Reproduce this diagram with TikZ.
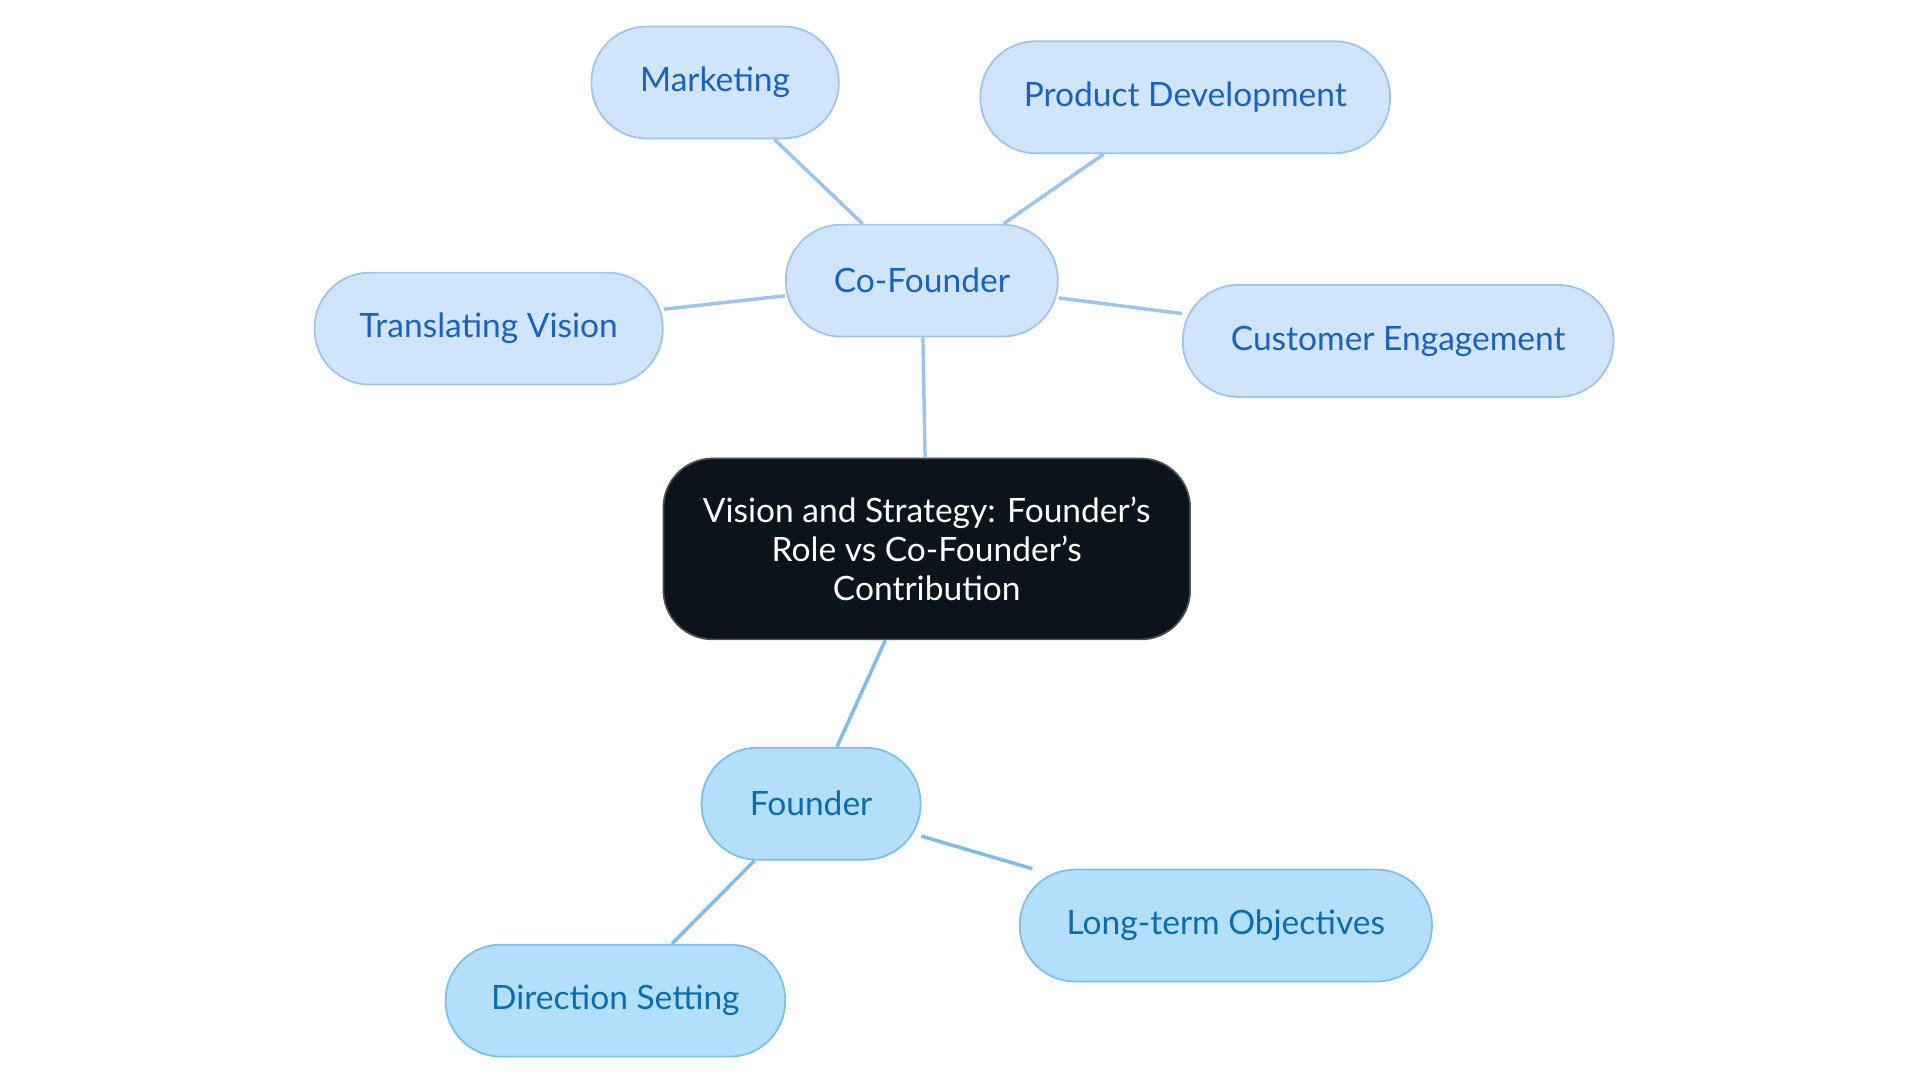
\documentclass[tikz,border=0pt]{standalone}
\usepackage{fontspec}
\setmainfont{Lato}
\definecolor{coFill}{HTML}{D0E4FB}
\definecolor{coLine}{HTML}{9DC3EE}
\definecolor{coText}{HTML}{1A62C0}
\definecolor{fFill}{HTML}{B3DEFC}
\definecolor{fLine}{HTML}{7DBDE8}
\definecolor{fText}{HTML}{0A6CB2}
\definecolor{rootFill}{HTML}{0B141C}
\begin{document}
\begin{tikzpicture}[x=0.02cm,y=-0.02cm]
    \tikzstyle{topic}=[rounded corners=0.9cm,minimum height=1.82cm,line width=0.8pt,
        font=\fontsize{15.5}{18}\selectfont,inner sep=0pt]
    \tikzstyle{co topic}=[topic,fill=coFill,draw=coLine,text=coText]
    \tikzstyle{f topic}=[topic,fill=fFill,draw=fLine,text=fText]
    \tikzstyle{co link}=[draw=coLine,line width=1.6pt]
    \tikzstyle{f link}=[draw=fLine,line width=1.6pt]

    \useasboundingbox (0,0) rectangle (1560,880);

    % Central topic
    \node[topic,fill=rootFill,draw=black!70,text=white,minimum width=8.56cm,
        minimum height=2.94cm,rounded corners=0.8cm,align=center] (root) at (753,446)
        {Vision and Strategy: Founder's\\Role vs Co-Founder's\\Contribution};

    % Co-Founder branch
    \node[co topic,minimum width=4.42cm] (co) at (749,228) {Co-Founder};
    \node[co topic,minimum width=4.02cm] (mkt) at (581,67) {Marketing};
    \node[co topic,minimum width=6.66cm] (prod) at (963,79) {Product Development};
    \node[co topic,minimum width=5.66cm] (trans) at (397,267) {Translating Vision};
    \node[co topic,minimum width=7.00cm] (cust) at (1136,277) {Customer Engagement};

    % Founder branch
    \node[f topic,minimum width=3.56cm] (fo) at (659,653) {Founder};
    \node[f topic,minimum width=6.70cm] (long) at (996,752) {Long-term Objectives};
    \node[f topic,minimum width=5.52cm] (dir) at (500,813) {Direction Setting};

    % Connections
    \begin{scope}[on background layer/.style={}]
    \path[co link] (root) -- (co);
    \foreach \dest in {mkt,prod,trans,cust}
        \path[co link] (co) -- (\dest);
    \path[f link] (root) -- (fo);
    \foreach \dest in {long,dir}
        \path[f link] (fo) -- (\dest);
    \end{scope}
\end{tikzpicture}
\end{document}
